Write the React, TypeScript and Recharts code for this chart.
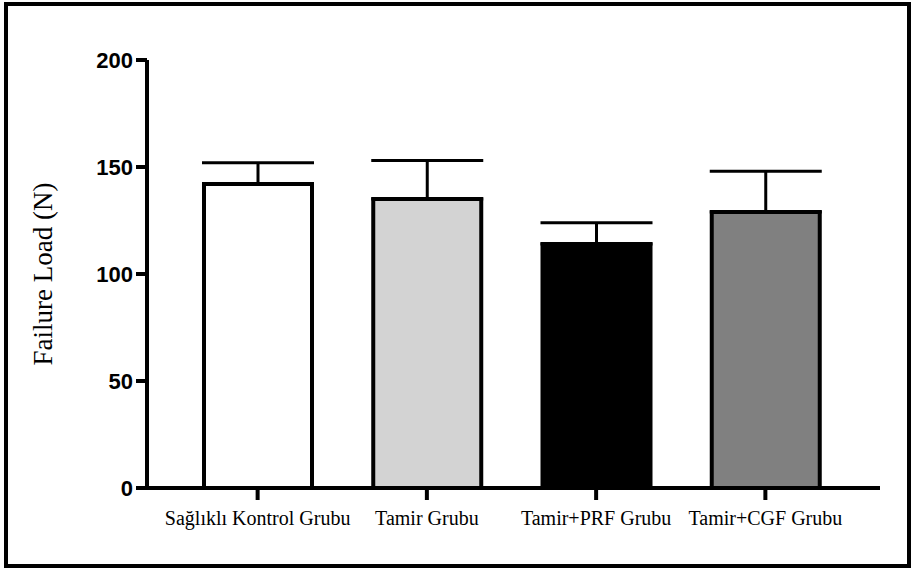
import { BarChart, Bar, XAxis, YAxis, ErrorBar, Cell } from 'recharts'

const groups = ['Sağlıklı Kontrol Grubu', 'Tamir Grubu', 'Tamir+PRF Grubu', 'Tamir+CGF Grubu']
const meanLoad = [142, 135, 114, 129]
const sdLoad = [10, 18, 10, 19]
const fills = ['#ffffff', '#d3d3d3', '#000000', '#808080']
const yTicks = [0, 50, 100, 150, 200]

const data = groups.map((g, i) => ({ group: g, load: meanLoad[i], err: [0, sdLoad[i]] }))

export default function App() {
  return (
    <div style={{ position: 'absolute', left: 0, top: 0, width: 914, height: 571, background: '#fff' }}>
      <div
        style={{
          position: 'absolute',
          left: 4,
          top: 2,
          width: 899,
          height: 558,
          border: '4px solid #000',
        }}
      />
      <div style={{ position: 'absolute', left: 0, top: 0 }}>
        <BarChart width={914} height={571} data={data} margin={{ top: 60, right: 34, bottom: 0, left: 0 }}>
          <XAxis
            dataKey="group"
            height={83}
            padding={{ left: 26, right: 30 }}
            axisLine={{ stroke: '#000', strokeWidth: 4 }}
            tickLine={{ stroke: '#000', strokeWidth: 4 }}
            tickSize={12}
            tickMargin={11}
            interval={0}
            tick={{ fill: '#000', fontSize: 20, fontWeight: 'normal', fontFamily: '"Liberation Serif", "Times New Roman", serif' }}
          />
          <YAxis
            domain={[0, 200]}
            ticks={yTicks}
            width={147}
            axisLine={{ stroke: '#000', strokeWidth: 4 }}
            tickLine={{ stroke: '#000', strokeWidth: 4 }}
            tickSize={11}
            tickMargin={3}
            tick={{ fill: '#000', fontSize: 22, fontWeight: 'bold', fontFamily: '"Liberation Sans", Arial, sans-serif' }}
            label={{
              value: 'Failure Load (N)',
              angle: -90,
              position: 'insideLeft',
              offset: 42,
              style: { textAnchor: 'middle', fill: '#000', fontSize: 27, fontWeight: 'normal', fontFamily: '"Liberation Serif", "Times New Roman", serif' },
            }}
          />
          <Bar dataKey="load" barSize={108} stroke="#000" strokeWidth={4} isAnimationActive={false}>
            {data.map((d, i) => (
              <Cell key={d.group} fill={fills[i]} />
            ))}
            <ErrorBar dataKey="err" width={56} stroke="#000" strokeWidth={3} isAnimationActive={false} />
          </Bar>
        </BarChart>
      </div>
    </div>
  )
}
